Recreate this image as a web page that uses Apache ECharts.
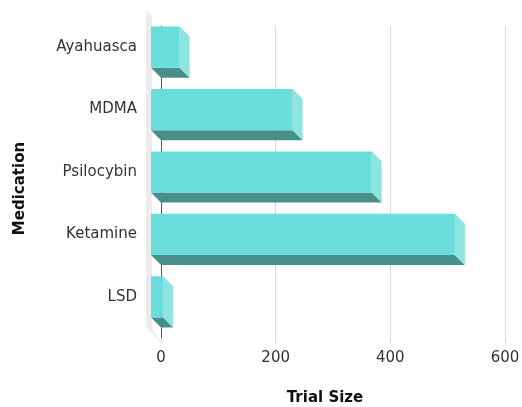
<!DOCTYPE html>
<html>
<head>
<meta charset="utf-8">
<script src="https://cdn.jsdelivr.net/npm/echarts@6/dist/echarts.min.js"></script>
<style>html,body{margin:0;padding:0;background:#fff}#c{width:522px;height:407px}</style>
</head>
<body>
<div id="c"></div>
<script>
const categories = ['Ayahuasca', 'MDMA', 'Psilocybin', 'Ketamine', 'LSD'];
const trialSize = [50, 247, 385, 530, 21];
const xTicks = [0, 200, 400, 600];

const FONT = 'DejaVu Sans';
const D = 10; // depth offset in px
const chart = echarts.init(document.getElementById('c'));

chart.setOption({
  animation: false,
  grid: { left: 161, right: 17, top: 26, bottom: 69, outerBoundsMode: 'none', containLabel: false },
  xAxis: {
    type: 'value', min: xTicks[0], max: xTicks[xTicks.length - 1], interval: 200,
    axisLine: { show: false },
    axisTick: { show: true, length: 5, lineStyle: { color: '#d9d9d9' } },
    splitLine: { lineStyle: { color: '#d9d9d9', width: 1 } },
    axisLabel: { color: '#333', fontSize: 15, fontFamily: FONT, margin: 13 },
    name: 'Trial Size', nameLocation: 'middle', nameGap: 53,
    nameTextStyle: { fontWeight: 'bold', fontSize: 15, fontFamily: FONT, color: '#111', padding: [0, 16, 0, 0] }
  },
  yAxis: {
    type: 'category', data: categories, inverse: true,
    axisLine: { show: true, lineStyle: { color: '#555', width: 1 } },
    axisTick: { show: false }, splitLine: { show: false },
    axisLabel: { color: '#333', fontSize: 15, fontFamily: FONT, margin: 24, verticalAlign: 'bottom', lineHeight: 20 },
    name: 'Medication', nameLocation: 'middle', nameRotate: 90, nameGap: 133,
    nameTextStyle: { fontWeight: 'bold', fontSize: 15, fontFamily: FONT, color: '#111', padding: [0, 13, 0, 0] }
  },
  series: [
    {
      type: 'custom', z: 1, silent: true,
      data: [[0, 0]],
      encode: { x: 0, y: 1 },
      renderItem: function (params, api) {
        const top = api.coord([0, 0]);
        const bot = api.coord([0, categories.length - 1]);
        const band = api.size([0, 1])[1];
        const ax = top[0];
        const T = top[1] - band / 2;
        const B = bot[1] + band / 2;
        return {
          type: 'polygon',
          shape: { points: [[ax - 15, T - 16], [ax - 9, T - 10], [ax - 9, B - 10], [ax, B + 4], [ax, B + 5], [ax - 15, B - 12]] },
          style: { fill: '#ececec' }
        };
      }
    },
    {
      type: 'custom', z: 3,
      data: trialSize.map((v, i) => [v, i]),
      encode: { x: 0, y: 1 },
      renderItem: function (params, api) {
        const v = api.value(0), i = api.value(1);
        const p0 = api.coord([0, i]);
        const p1 = api.coord([v, i]);
        const band = api.size([0, 1])[1];
        const h = band * 0.66;
        const x0 = p0[0], x1 = p1[0];
        const yT = p0[1] - h / 2, yB = p0[1] + h / 2;
        return {
          type: 'group',
          children: [
            { type: 'polygon', shape: { points: [[x0 - D, yB - D], [x1 - D, yB - D], [x1, yB], [x0, yB]] }, style: { fill: '#488f8c' } },
            { type: 'polygon', shape: { points: [[x1 - D, yT - D], [x1, yT], [x1, yB], [x1 - D, yB - D]] }, style: { fill: '#8de4e2' } },
            { type: 'rect', shape: { x: x0 - D, y: yT - D, width: x1 - x0, height: h }, style: { fill: '#6bdcdc' } }
          ]
        };
      }
    }
  ]
});
</script>
</body>
</html>
